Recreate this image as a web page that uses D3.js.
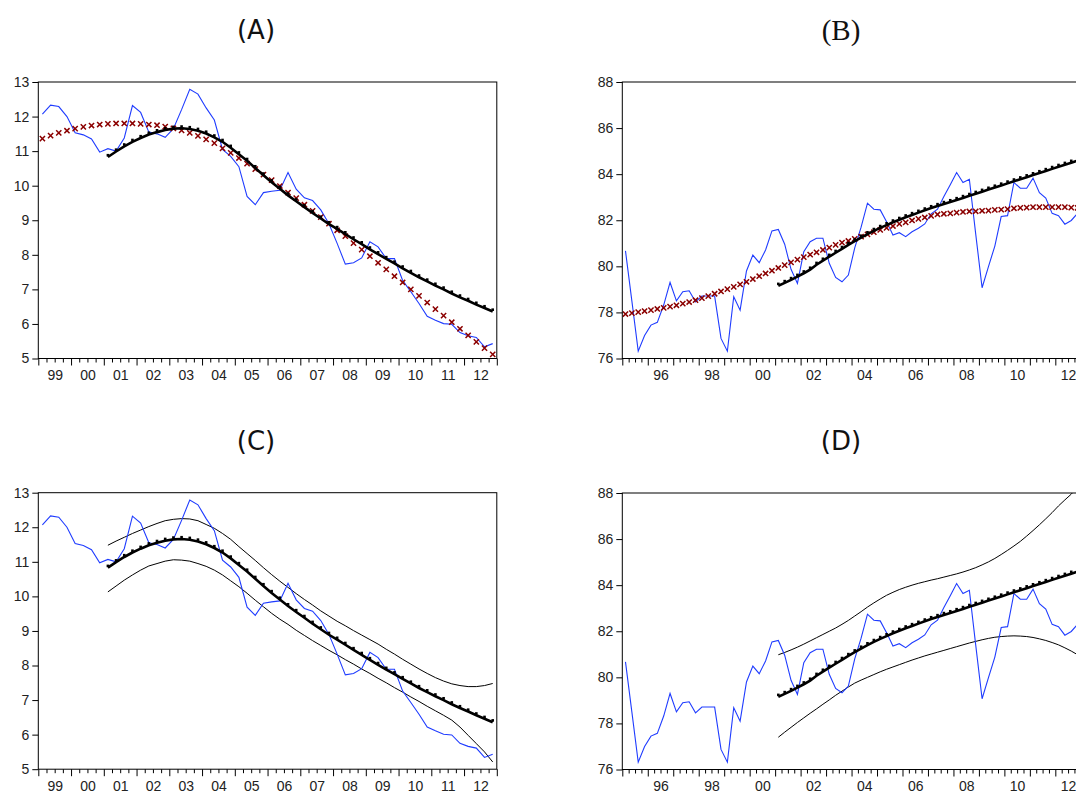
<!DOCTYPE html>
<html><head><meta charset="utf-8">
<script src="https://cdn.jsdelivr.net/npm/d3@7"></script>
<style>
html,body{margin:0;padding:0;background:#fff;}
svg{display:block;}
</style></head>
<body>
<script>
// ---------- DATA ----------
// Panels A / C: quarterly 1999Q1 - 2012Q4 (56 obs)
const startA = 1999, yearsA = 14;
const yearLabelsA = ["99","00","01","02","03","04","05","06","07","08","09","10","11","12"];
const yTicksA = [5,6,7,8,9,10,11,12,13];
const actualA = [12.07,12.33,12.29,12.00,11.53,11.47,11.35,10.97,11.07,11.00,11.38,12.32,12.12,11.55,11.50,11.40,
  11.65,12.20,12.79,12.65,12.25,11.90,11.05,10.85,10.55,9.69,9.45,9.80,9.84,9.87,10.38,9.90,9.65,9.57,9.30,8.90,
  8.33,7.73,7.77,7.91,8.38,8.23,7.89,7.89,7.26,6.93,6.59,6.22,6.11,6.01,5.99,5.75,5.66,5.61,5.34,5.43];
const trendA = [11.36,11.45,11.53,11.59,11.65,11.70,11.74,11.77,11.79,11.80,11.80,11.80,11.79,11.77,11.75,11.71,
  11.66,11.60,11.53,11.44,11.34,11.23,11.08,10.95,10.80,10.64,10.48,10.32,10.16,9.99,9.80,9.64,9.45,9.27,9.09,8.90,
  8.71,8.54,8.34,8.15,7.96,7.77,7.58,7.38,7.20,7.00,6.81,6.62,6.43,6.24,6.05,5.86,5.67,5.48,5.30,5.12];
const fcStartA = 8; // first forecast quarter index (2001Q1)
const forecastA = [10.83,10.99,11.14,11.27,11.38,11.48,11.55,11.61,11.65,11.66,11.64,11.59,11.51,11.40,11.27,11.10,
  10.91,10.72,10.51,10.30,10.10,9.91,9.72,9.55,9.38,9.21,9.05,8.89,8.75,8.60,8.45,8.31,8.16,8.02,7.88,7.75,
  7.61,7.48,7.35,7.23,7.11,7.00,6.88,6.77,6.67,6.56,6.46,6.36];
const upperC = [11.48,11.60,11.71,11.82,11.92,12.02,12.11,12.19,12.23,12.25,12.24,12.19,12.08,11.97,11.82,11.65,
  11.44,11.24,11.04,10.83,10.63,10.44,10.26,10.08,9.91,9.75,9.58,9.43,9.28,9.15,9.01,8.88,8.75,8.62,8.47,8.33,
  8.18,8.04,7.90,7.77,7.65,7.55,7.47,7.42,7.39,7.39,7.42,7.48];
const lowerC = [10.13,10.30,10.47,10.62,10.76,10.88,10.95,11.02,11.06,11.05,11.02,10.95,10.87,10.76,10.62,10.45,
  10.28,10.09,9.89,9.70,9.51,9.34,9.19,9.02,8.87,8.72,8.58,8.44,8.31,8.17,8.04,7.90,7.77,7.63,7.50,7.36,
  7.23,7.09,6.96,6.82,6.69,6.56,6.42,6.22,5.98,5.74,5.50,5.21];

// Panels B / D: quarterly 1995Q1 - 2012Q4 (72 obs)
const startB = 1995, yearsB = 18;
const yearLabelsB = [[1996,"96"],[1998,"98"],[2000,"00"],[2002,"02"],[2004,"04"],[2006,"06"],[2008,"08"],[2010,"10"],[2012,"12"]];
const yTicksB = [76,78,80,82,84,86,88];
const actualB = [80.67,78.50,76.32,77.00,77.45,77.57,78.32,79.30,78.50,78.90,78.94,78.46,78.71,78.71,78.71,76.87,
  76.32,78.68,78.10,79.80,80.49,80.16,80.71,81.54,81.60,80.96,79.87,79.26,80.64,81.07,81.22,81.22,80.13,79.52,
  79.33,79.62,80.80,81.70,82.74,82.48,82.45,81.94,81.36,81.46,81.29,81.50,81.65,81.84,82.28,82.48,83.03,83.54,
  84.07,83.64,83.78,81.40,79.07,79.99,80.88,82.16,82.20,83.64,83.39,83.39,83.83,83.20,82.96,82.30,82.20,81.83,
  81.99,82.30];
const trendB = [77.93,77.97,78.01,78.06,78.10,78.15,78.20,78.25,78.31,78.38,78.45,78.53,78.62,78.71,78.81,78.91,
  79.01,79.11,79.22,79.33,79.45,79.57,79.69,79.81,79.93,80.05,80.17,80.29,80.40,80.51,80.61,80.71,80.81,80.93,
  81.03,81.10,81.19,81.29,81.39,81.48,81.58,81.67,81.75,81.84,81.91,81.99,82.06,82.12,82.19,82.25,82.28,82.30,
  82.33,82.36,82.38,82.39,82.41,82.42,82.45,82.46,82.48,82.52,82.54,82.55,82.57,82.57,82.57,82.57,82.57,82.57,
  82.55,82.54];
const fcStartB = 24; // 2001Q1
const forecastB = [79.16,79.28,79.41,79.55,79.70,79.86,80.07,80.25,80.42,80.59,80.76,80.93,81.09,81.25,81.40,81.54,
  81.67,81.79,81.91,82.02,82.13,82.23,82.33,82.43,82.53,82.62,82.71,82.79,82.88,82.97,83.06,83.15,83.24,83.33,
  83.42,83.51,83.60,83.69,83.78,83.87,83.96,84.05,84.14,84.23,84.32,84.41,84.50,84.59];
const upperD = [80.98,81.08,81.19,81.31,81.44,81.58,81.72,81.86,82.00,82.14,82.30,82.47,82.66,82.85,83.05,83.23,
  83.40,83.56,83.69,83.81,83.91,84.00,84.08,84.15,84.22,84.28,84.35,84.42,84.49,84.57,84.66,84.76,84.88,85.01,
  85.16,85.33,85.51,85.70,85.90,86.13,86.37,86.62,86.88,87.15,87.44,87.70,87.95,88.25];
const lowerD = [77.40,77.62,77.83,78.04,78.24,78.44,78.63,78.83,79.02,79.22,79.40,79.58,79.75,79.88,80.00,80.12,
  80.24,80.35,80.45,80.55,80.65,80.75,80.84,80.93,81.01,81.09,81.17,81.25,81.33,81.41,81.49,81.56,81.63,81.69,
  81.74,81.77,81.79,81.80,81.79,81.77,81.73,81.67,81.60,81.51,81.41,81.28,81.14,80.98];

const titles = ["(A)","(B)","(C)","(D)"];

// ---------- DRAW ----------
const W = 1076, H = 794;
const svg = d3.select("body").append("svg").attr("width", W).attr("height", H);
svg.append("rect").attr("width", W).attr("height", H).attr("fill", "#fff");

const BLUE = "#1f3cff", RED = "#8b0000";

function panel(o) {
  const g = svg.append("g");
  const x = d3.scaleLinear().domain([o.start, o.start + o.years]).range([o.left, o.left + o.width]);
  const y = d3.scaleLinear().domain(o.yDomain).range([o.top + o.height, o.top]);
  const qx = i => x(o.start + (i + 0.5) / 4);

  const clipId = "clip" + o.id;
  svg.append("clipPath").attr("id", clipId).append("rect")
    .attr("x", o.left).attr("y", o.top).attr("width", o.width).attr("height", o.height);

  // title
  g.append("text").attr("x", o.titleX).attr("y", o.titleY).attr("text-anchor", "middle")
    .attr("font-family", o.titleFont).attr("font-size", o.titleSize).attr("fill", "#111").text(o.title);

  const plot = g.append("g").attr("clip-path", `url(#${clipId})`);

  // bands
  const lineFc = d3.line().x((d, k) => qx(o.fcStart + k)).y(d => y(d));
  if (o.upper) {
    [o.upper, o.lower].forEach(arr => {
      plot.append("path").attr("d", lineFc(arr)).attr("fill", "none")
        .attr("stroke", "#000").attr("stroke-width", 1);
    });
  }
  // actual
  const lineAct = d3.line().x((d, i) => qx(i)).y(d => y(d));
  plot.append("path").attr("d", lineAct(o.actual)).attr("fill", "none")
    .attr("stroke", BLUE).attr("stroke-width", 1.1);
  // trend (x markers)
  if (o.trend) {
    const s = 2.6;
    plot.append("g").selectAll("path").data(o.trend).join("path")
      .attr("d", (d, i) => {
        const cx = qx(i), cy = y(d);
        return `M${cx - s},${cy - s}L${cx + s},${cy + s}M${cx - s},${cy + s}L${cx + s},${cy - s}`;
      })
      .attr("stroke", RED).attr("stroke-width", 1.5).attr("fill", "none");
  }
  // forecast thick line + dots
  plot.append("path").attr("d", lineFc(o.forecast)).attr("fill", "none")
    .attr("stroke", "#000").attr("stroke-width", 2.6);
  plot.append("g").attr("transform", "translate(0,-1.8)").selectAll("rect").data(o.forecast).join("rect")
    .attr("x", (d, k) => qx(o.fcStart + k) - 1.3).attr("y", d => y(d) - 1.3)
    .attr("width", 2.6).attr("height", 2.6).attr("fill", "#000");

  // frame
  g.append("rect").attr("x", o.left).attr("y", o.top).attr("width", o.width).attr("height", o.height)
    .attr("fill", "none").attr("stroke", "#000").attr("stroke-width", 1);

  // y axis
  const ya = d3.axisLeft(y).tickValues(o.yTicks).tickSize(6).tickPadding(3).tickFormat(d3.format("d"));
  const yg = g.append("g").attr("transform", `translate(${o.left},0)`).call(ya);
  yg.select(".domain").remove();
  yg.selectAll("line").attr("stroke", "#000");
  yg.selectAll("text").attr("font-family", "Liberation Sans, Arial, sans-serif").attr("font-size", 14).attr("fill", "#222");

  // x axis: minor (quarters) and major (years) ticks
  const base = o.top + o.height;
  const qTicks = d3.range(0, o.years * 4 + 1).map(k => o.start + k / 4);
  const minor = d3.axisBottom(x).tickValues(qTicks.filter((d, k) => k % 4 !== 0)).tickSize(4).tickFormat("");
  const major = d3.axisBottom(x).tickValues(qTicks.filter((d, k) => k % 4 === 0)).tickSize(7).tickFormat("");
  [minor, major].forEach(ax => {
    const ag = g.append("g").attr("transform", `translate(0,${base})`).call(ax);
    ag.select(".domain").remove();
    ag.selectAll("line").attr("stroke", "#000");
  });
  const lab = d3.axisBottom(x).tickValues(o.xLabels.map(d => d[0] + 0.5)).tickSize(0).tickPadding(12)
    .tickFormat((d, i) => o.xLabels[i][1]);
  const lg = g.append("g").attr("transform", `translate(0,${base})`).call(lab);
  lg.select(".domain").remove();
  lg.selectAll("text").attr("font-family", "Liberation Sans, Arial, sans-serif").attr("font-size", 14).attr("fill", "#222");
}

const labsA = yearLabelsA.map((s, i) => [startA + i, s]);
const plotW = 458.5, plotH = 276.5;

panel({id: "A", title: titles[0], titleX: 256, titleY: 39, titleFont: "DejaVu Sans, sans-serif", titleSize: 26,
  left: 38.3, top: 82, width: plotW, height: plotH, start: startA, years: yearsA,
  yDomain: [5, 13], yTicks: yTicksA, xLabels: labsA,
  actual: actualA, trend: trendA, fcStart: fcStartA, forecast: forecastA});

panel({id: "B", title: titles[1], titleX: 841, titleY: 40, titleFont: "Liberation Serif, serif", titleSize: 29,
  left: 622.3, top: 82, width: plotW, height: plotH, start: startB, years: yearsB,
  yDomain: [76, 88], yTicks: yTicksB, xLabels: yearLabelsB,
  actual: actualB, trend: trendB, fcStart: fcStartB, forecast: forecastB});

panel({id: "C", title: titles[2], titleX: 256, titleY: 450, titleFont: "DejaVu Sans, sans-serif", titleSize: 26,
  left: 38.3, top: 492.7, width: plotW, height: plotH, start: startA, years: yearsA,
  yDomain: [5, 13], yTicks: yTicksA, xLabels: labsA,
  actual: actualA, fcStart: fcStartA, forecast: forecastA, upper: upperC, lower: lowerC});

panel({id: "D", title: titles[3], titleX: 841, titleY: 450, titleFont: "DejaVu Sans, sans-serif", titleSize: 26,
  left: 622.3, top: 493, width: plotW, height: plotH, start: startB, years: yearsB,
  yDomain: [76, 88], yTicks: yTicksB, xLabels: yearLabelsB,
  actual: actualB, fcStart: fcStartB, forecast: forecastB, upper: upperD, lower: lowerD});
</script>
</body></html>
